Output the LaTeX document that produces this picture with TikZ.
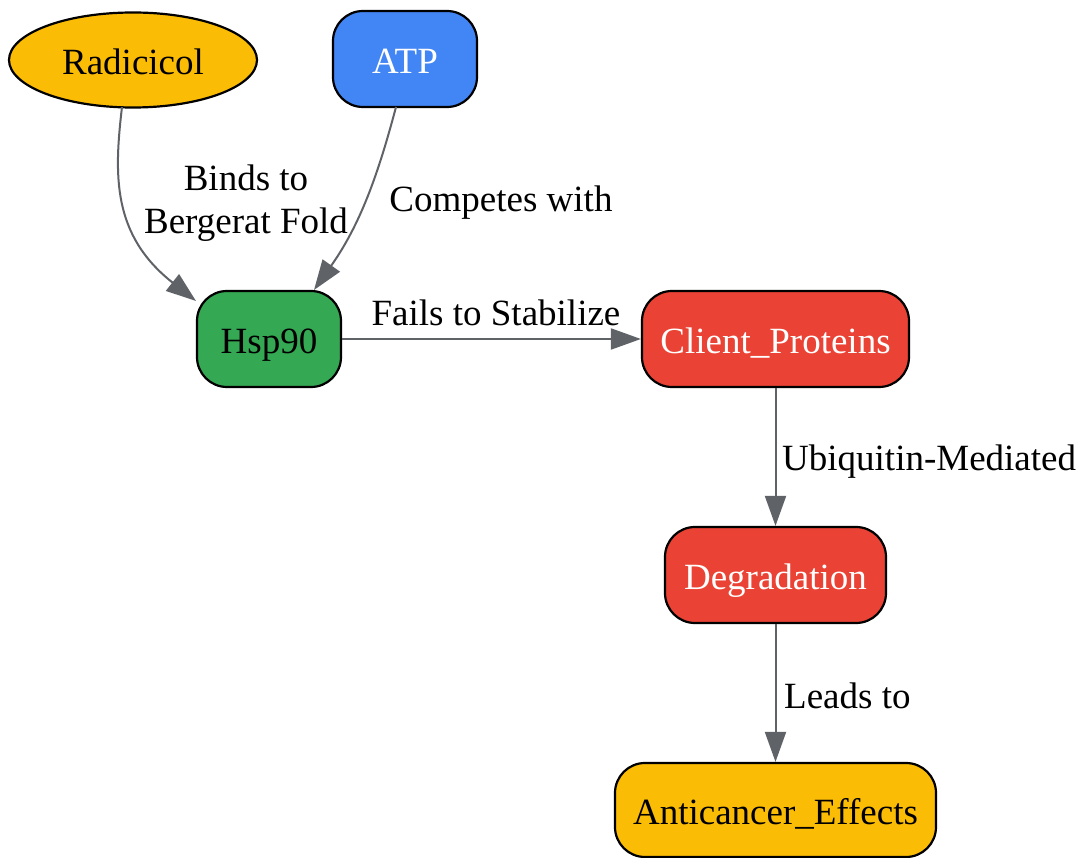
\documentclass[tikz,border=0pt]{standalone}
\usepackage{fontspec}
\setmainfont{Liberation Serif}
\usetikzlibrary{arrows.meta,shapes.geometric}
\definecolor{gyellow}{HTML}{FBBC05}
\definecolor{gblue}{HTML}{4285F4}
\definecolor{ggreen}{HTML}{34A853}
\definecolor{gred}{HTML}{EA4335}
\definecolor{edgegray}{HTML}{5F6368}
\tikzset{
  box/.style={draw=black, line width=2.2pt, rounded corners=30pt, inner sep=0pt, text height=29pt, text depth=0pt, font=\fontsize{37}{43}\selectfont},
  oval/.style={draw=black, line width=2.2pt, ellipse, inner sep=0pt, text height=29pt, text depth=0pt, font=\fontsize{37}{43}\selectfont},
  conn/.style={draw=edgegray, line width=2pt, -{Triangle[length=30pt,width=21pt]}},
  lbl/.style={font=\fontsize{37}{43}\selectfont, align=center, inner sep=0pt}
}
\begin{document}
\begin{tikzpicture}[x=1pt,y=-1pt]
\useasboundingbox (0,0) rectangle (1080,858);
\node[oval, fill=gyellow, minimum width=248pt, minimum height=95pt] (rad) at (133,60) {Radicicol};
\node[box, fill=gblue, text=white, minimum width=144pt, minimum height=96pt] (atp) at (405,59) {ATP};
\node[box, fill=ggreen, minimum width=144pt, minimum height=96pt] (hsp) at (269,339) {Hsp90};
\node[box, fill=gred, text=white, minimum width=267pt, minimum height=96pt] (cli) at (775.5,339) {Client\_Proteins};
\node[box, fill=gred, text=white, minimum width=221pt, minimum height=96pt] (deg) at (775.5,575) {Degradation};
\node[box, fill=gyellow, minimum width=321pt, minimum height=94pt] (anti) at (775.5,810) {Anticancer\_Effects};

\coordinate (radout) at (122,107);
\coordinate (atpout) at (396,107);
\draw[conn] (radout) .. controls (114,175) and (112,235) .. (196,301);
\draw[conn] (atpout) .. controls (378,175) and (360,225) .. (314,290);
\draw[conn] (hsp.east) -- (cli.west);
\draw[conn] (cli.south) -- (deg.north);
\draw[conn] (deg.south) -- (anti.north);

\node[lbl] (l1) at (246,203) {Binds to\\Bergerat Fold};
\node[lbl] (l2) at (501,203) {Competes with};
\node[lbl] (l3) at (496,313) {Fails to Stabilize};
\node[lbl, anchor=west] (l4) at (782,462) {Ubiquitin-Mediated};
\node[lbl, anchor=west] (l5) at (784,696) {Leads to};
\end{tikzpicture}
\end{document}
